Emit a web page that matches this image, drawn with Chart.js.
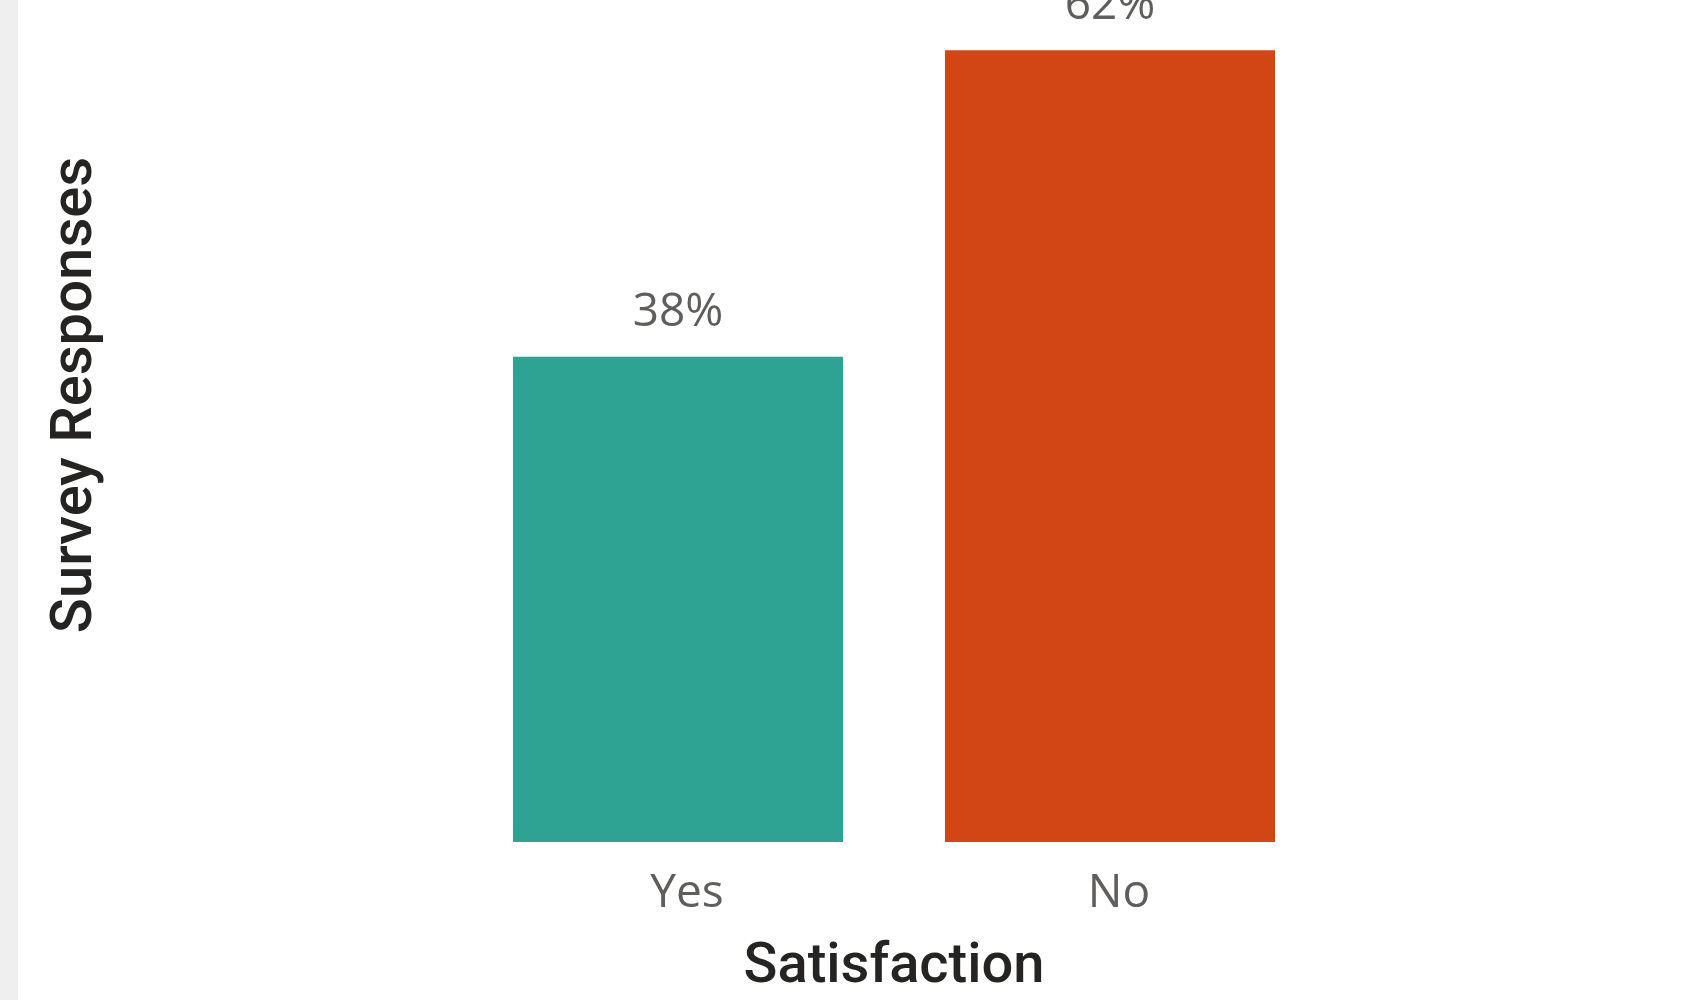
<!DOCTYPE html>
<html>
<head>
<meta charset="utf-8">
<script src="https://cdn.jsdelivr.net/npm/chart.js@4/dist/chart.umd.min.js"></script>
<style>
  html, body { margin: 0; padding: 0; width: 1703px; height: 1000px; overflow: hidden; background: #efefef; }
  .tile { position: absolute; left: 18px; top: -60px; width: 1685px; height: 1060px; background: #fff; }
</style>
</head>
<body>
<div class="tile">
  <canvas id="chart"></canvas>
</div>
<script>
const categories = ['Yes', 'No']
const shares = [38, 62]
const barColors = ['#2ea394', '#d24615']

const labelColor = '#605e5c'
const titleColor = '#252423'

// percentage text above each bar
const valueLabels = {
  id: 'valueLabels',
  afterDatasetsDraw (chart) {
    const ctx = chart.ctx
    const meta = chart.getDatasetMeta(0)
    ctx.save()
    ctx.font = '46px "Open Sans", "Noto Sans", sans-serif'
    ctx.fillStyle = labelColor
    ctx.textAlign = 'center'
    ctx.textBaseline = 'alphabetic'
    meta.data.forEach((bar, i) => {
      ctx.fillText(shares[i] + '%', bar.x, bar.y - 31)
    })
    ctx.restore()
  }
}

function renderChart () {
  const ctx = document.getElementById('chart').getContext('2d')
  return new Chart(ctx, {
    type: 'bar',
    data: {
      labels: categories,
      datasets: [{
        data: shares,
        backgroundColor: barColors,
        borderWidth: 0,
        categoryPercentage: 1,
        barPercentage: 0.764
      }]
    },
    options: {
      responsive: true,
      maintainAspectRatio: false,
      animation: false,
      layout: { padding: { top: 8, right: 377, bottom: 0, left: 0 } },
      plugins: {
        legend: { display: false },
        tooltip: { enabled: false }
      },
      scales: {
        x: {
          grid: { display: false, drawTicks: false },
          border: { display: false },
          ticks: {
            padding: 24,
            labelOffset: 9,
            color: labelColor,
            font: { family: '"Open Sans", "Noto Sans", sans-serif', size: 46 }
          },
          title: {
            display: true,
            text: 'Satisfaction',
            color: titleColor,
            padding: { top: 0, bottom: 0 },
            font: { family: 'Roboto, sans-serif', size: 56, weight: '500', lineHeight: 1.14 }
          },
          afterFit (scale) { scale.height = 158 }
        },
        y: {
          min: 0,
          max: 70,
          grid: { display: false, drawTicks: false },
          border: { display: false },
          ticks: { display: false },
          title: {
            display: true,
            text: 'Survey Responses',
            color: titleColor,
            padding: { top: 24, bottom: 0 },
            font: { family: 'Roboto, sans-serif', size: 58, weight: '500' }
          },
          afterFit (scale) { scale.width = 444 }
        }
      }
    },
    plugins: [valueLabels]
  })
}

renderChart()
</script>
</body>
</html>
